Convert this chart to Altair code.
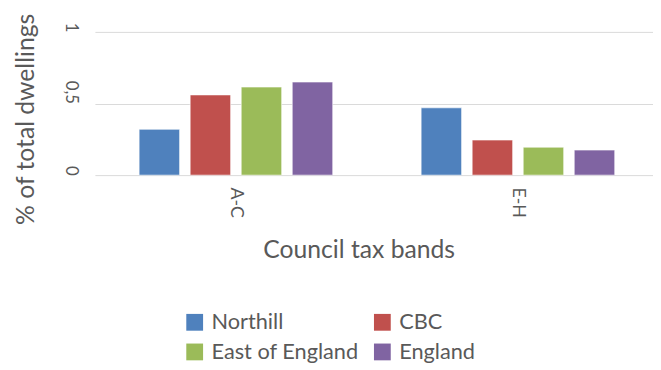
import altair as alt
import pandas as pd

categories = ["A-C", "E-H"]
series = ["Northill", "CBC", "East of England", "England"]
northill = [0.32, 0.47]
cbc = [0.56, 0.245]
east_of_england = [0.615, 0.195]
england = [0.65, 0.175]
colors = ["#4F81BD", "#C0504D", "#9BBB59", "#8064A2"]

values = [northill, cbc, east_of_england, england]
rows = []
for s, vals in zip(series, values):
    for c, v in zip(categories, vals):
        rows.append({"band": c, "series": s, "value": v})
df = pd.DataFrame(rows)

FONT = "Lato"
GREY = "#595959"

chart = alt.Chart(df).mark_bar(stroke="white", strokeWidth=0.6).encode(
    x=alt.X("band:N", sort=categories,
            scale=alt.Scale(range=[0, 571], paddingInner=0, paddingOuter=0),
            axis=alt.Axis(title="Council tax bands", labelAngle=90, labelAlign="left",
                          labelBaseline="middle", labelPadding=12, ticks=False, domain=False,
                          labelFontSize=18, labelColor=GREY, labelFont=FONT,
                          titleFont=FONT, titleFontSize=25, titleColor=GREY,
                          titleFontWeight="normal", titleX=267, titleY=75,
                          titleBaseline="middle")),
    xOffset=alt.XOffset("series:N", sort=series,
                        scale=alt.Scale(paddingInner=0.207, paddingOuter=0.866)),
    y=alt.Y("value:Q", scale=alt.Scale(domain=[0, 1], nice=False),
            axis=alt.Axis(title="% of total dwellings", values=[0, 0.5, 1],
                          labelExpr="replace(format(datum.value, '~g'), '.', ',')",
                          labelAngle=90, labelAlign="right", labelBaseline="middle",
                          labelPadding=25, ticks=False, domain=False,
                          labelFontSize=17, labelColor=GREY, labelFont=FONT,
                          gridColor="#D9D9D9", gridWidth=1,
                          titleFont=FONT, titleFontSize=25, titleColor=GREY,
                          titleFontWeight="normal", titleX=-70, titleY=88,
                          titleBaseline="middle", titleAngle=270)),
    color=alt.Color("series:N", sort=series,
                    scale=alt.Scale(domain=series, range=colors),
                    legend=alt.Legend(title=None, orient="none", legendX=90, legendY=283,
                                      columns=2, direction="horizontal",
                                      symbolType="square", symbolSize=289,
                                      symbolStrokeWidth=0, labelFontSize=22,
                                      labelColor=GREY, labelFont=FONT, columnPadding=13,
                                      rowPadding=8, labelOffset=6, padding=0)),
).properties(
    width=565, height=145,
    autosize=alt.AutoSizeParams(type="none"),
    padding={"left": 88, "top": 22, "right": 0, "bottom": 188},
).configure_view(stroke=None)

chart.save("out.html", embed_options={"renderer": "svg", "actions": False})
